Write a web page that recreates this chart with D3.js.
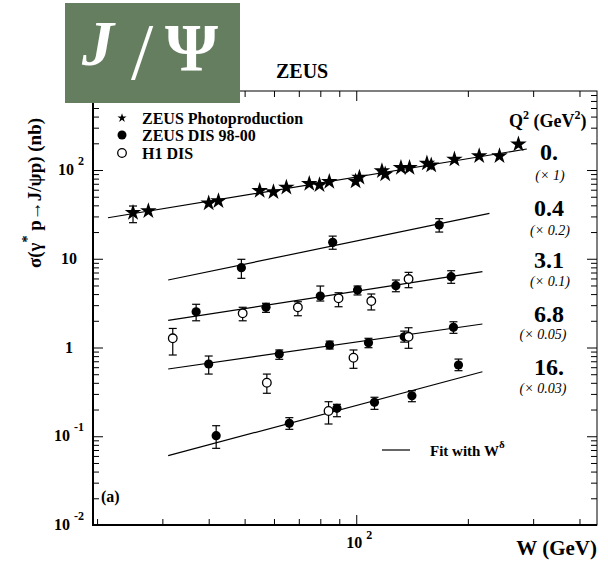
<!DOCTYPE html>
<html><head><meta charset="utf-8">
<script src="https://cdn.jsdelivr.net/npm/d3@7"></script>
<style>body{margin:0;background:#fff}text{font-family:"Liberation Serif","Times New Roman",serif}</style>
</head><body><svg id="chart" width="608" height="563"></svg>
<script>
// ---- data: sigma(gamma* p -> J/psi p) vs W, per Q^2 bin (already scaled) ----
const photoW     = [25.0, 27.5, 40.0, 42.5, 54.9, 59.8, 64.8, 74.7, 79.6, 84.6, 99.6, 102, 117.3, 119.7, 132, 139.2, 155.1, 159.3, 184, 214.6, 243.4, 273.8];
const photoSigma = [33.0, 34.5, 42.2, 44.8, 58.4, 56.5, 63.8, 70.1, 67.8, 73.8, 74.6, 82.7, 97.5, 89.5, 106, 106, 119, 113, 132, 144, 144, 195];
const photoLo    = [25.5, null, null, null, null, null, null, null, null, null, null, null, null, null, null, null, null, null, null, null, null, null];
const photoHi    = [39.3, null, null, null, null, null, null, null, null, null, null, null, null, null, null, null, null, null, null, null, null, null];

// ZEUS DIS 98-00
const zeusQ04W = [49.0, 86.4, 167.4];
const zeusQ04S = [7.93, 15.3, 24.0];
const zeusQ04Lo = [6.02, 12.8, 20.0];
const zeusQ04Hi = [9.86, 18.0, 28.3];

const zeusQ31W = [37.0, 57.1, 80.0, 100.8, 127.9, 180.3];
const zeusQ31S = [2.53, 2.84, 3.80, 4.44, 4.97, 6.28];
const zeusQ31Lo = [2.00, 2.49, 3.34, 3.91, 4.25, 5.29];
const zeusQ31Hi = [3.07, 3.15, 4.93, 4.93, 5.76, 7.33];

const zeusQ68W = [40.0, 62.0, 84.8, 107.9, 134.7, 182.9];
const zeusQ68S = [0.652, 0.845, 1.067, 1.13, 1.32, 1.69];
const zeusQ68Lo = [0.502, 0.736, 0.962, 0.995, 1.15, 1.445];
const zeusQ68Hi = [0.802, 0.938, 1.18, 1.27, 1.53, 1.95];

const zeusQ16W = [41.9, 66.0, 88.7, 112, 141.3, 188.7];
const zeusQ16S = [0.1014, 0.14, 0.2065, 0.241, 0.286, 0.635];
const zeusQ16Lo = [0.0731, 0.1197, 0.166, 0.201, 0.245, 0.548];
const zeusQ16Hi = [0.1315, 0.162, 0.229, 0.275, 0.326, 0.741];

// H1 DIS
const h1Q31W = [32.0, 49.4, 69.6, 89.6, 109.8, 138.4];
const h1Q31S = [1.27, 2.43, 2.84, 3.58, 3.34, 5.91];
const h1Q31Lo = [0.823, 2.00, 2.28, 2.88, 2.65, 4.72];
const h1Q31Hi = [1.64, 2.84, 3.28, 4.14, 4.01, 7.03];

const h1Q68W = [57.4, 98.3, 138.4];
const h1Q68S = [0.401, 0.767, 1.32];
const h1Q68Lo = [0.305, 0.583, 0.98];
const h1Q68Hi = [0.502, 0.938, 1.67];

const h1Q16W = [84.2];
const h1Q16S = [0.1925];
const h1Q16Lo = [0.1374];
const h1Q16Hi = [0.245];

// W^delta fits, one per Q^2 bin: end points of each line
const fitWStart = [21.4, 31.1, 31.1, 31.1, 31.1];
const fitSStart = [29.0, 5.76, 2.02, 0.573, 0.0604];
const fitWEnd   = [288.4, 228.7, 218.9, 218.9, 218.9];
const fitSEnd   = [172.5, 32.5, 7.15, 1.84, 0.533];

const q2Labels    = ["0.", "0.4", "3.1", "6.8", "16."];
const scaleLabels = ["(\u00d7 1)", "(\u00d7 0.2)", "(\u00d7 0.1)", "(\u00d7 0.05)", "(\u00d7 0.03)"];

const yMajor = [0.01, 0.1, 1, 10, 100];
const yMajorExp = ["-2", "-1", null, null, "2"];
const yMajorBase = ["10", "10", "1", "10", "10"];
const yMinor = [];
for (let k = -2; k <= 2; k++) for (let m = 2; m <= 9; m++) { const v = m * Math.pow(10, k); if (v < 777) yMinor.push(v); }
const xMajor = [100];
const xMinor = [20, 30, 40, 50, 60, 70, 80, 90, 200, 300, 400];

// ---- layout ----
const L = 93, R = 597, T = 91, B = 525;
const svg = d3.select("#chart");
const x = d3.scaleLog().domain([19.5, 446]).range([L, R]);
const y = d3.scaleLog().domain([0.01, 777]).range([B, T]);

// frame
svg.append("rect").attr("x", L).attr("y", T).attr("width", R - L).attr("height", B - T)
  .attr("fill", "none").attr("stroke", "#000").attr("stroke-width", 1);
svg.append("line").attr("x1", L).attr("x2", L).attr("y1", T).attr("y2", B + 1).attr("stroke", "#000").attr("stroke-width", 2);
svg.append("line").attr("x1", L - 1).attr("x2", R).attr("y1", B).attr("y2", B).attr("stroke", "#000").attr("stroke-width", 2);

function ticks(axisGen, transform, values, size) {
  const g = svg.append("g").attr("transform", transform)
    .call(axisGen.tickValues(values).tickSize(size).tickSizeOuter(0).tickFormat(""));
  g.select(".domain").remove();
  g.selectAll("line").attr("stroke", "#000").attr("stroke-width", 1);
}
ticks(d3.axisRight(y), `translate(${L},0)`, yMajor, 10);
ticks(d3.axisRight(y), `translate(${L},0)`, yMinor, 6);
ticks(d3.axisLeft(y), `translate(${R},0)`, yMajor, 10);
ticks(d3.axisLeft(y), `translate(${R},0)`, yMinor, 6);
ticks(d3.axisTop(x), `translate(0,${B})`, xMajor, 10);
ticks(d3.axisTop(x), `translate(0,${B})`, xMinor, 6);
ticks(d3.axisBottom(x), `translate(0,${T})`, xMajor, 10);
ticks(d3.axisBottom(x), `translate(0,${T})`, xMinor, 6);

// y tick labels
yMajor.forEach((v, i) => {
  const t = svg.append("text").attr("text-anchor", "end").attr("font-weight", "bold").attr("font-size", 16)
    .attr("y", y(v) + 5);
  t.append("tspan").text(yMajorBase[i]);
  if (yMajorExp[i]) {
    t.attr("x", 84);
    t.append("tspan").attr("dx", 4).attr("dy", -10).attr("font-size", 12).text(yMajorExp[i]);
  } else {
    t.attr("x", yMajorBase[i] === "1" ? 73 : 77);
  }
});
// x tick label
{
  const t = svg.append("text").attr("x", x(100) - 10).attr("y", 548).attr("font-weight", "bold").attr("font-size", 16);
  t.append("tspan").text("10");
  t.append("tspan").attr("dx", 4).attr("dy", -9).attr("font-size", 12).text("2");
}
// axis titles
svg.append("text").attr("x", 597).attr("y", 555).attr("text-anchor", "end")
  .attr("font-weight", "bold").attr("font-size", 21).text("W (GeV)");
{
  const t = svg.append("text").attr("transform", "translate(41,193) rotate(-90)")
    .attr("text-anchor", "middle").attr("font-weight", "bold").attr("font-size", 19);
  t.append("tspan").text("\u03c3(\u03b3");
  t.append("tspan").attr("dy", -9).attr("font-size", 14).text("*");
  t.append("tspan").attr("dy", 9).text(" p\u2192J/\u03c8p) (nb)");
}

// fit lines
const line = d3.line().x(d => x(d[0])).y(d => y(d[1]));
fitWStart.forEach((w, i) => {
  svg.append("path").attr("d", line([[w, fitSStart[i]], [fitWEnd[i], fitSEnd[i]]]))
    .attr("fill", "none").attr("stroke", "#000").attr("stroke-width", 1.2);
});

// error bars
function errorBars(W, lo, hi) {
  W.forEach((w, i) => {
    if (lo[i] == null) return;
    const cx = x(w);
    svg.append("line").attr("x1", cx).attr("x2", cx).attr("y1", y(lo[i])).attr("y2", y(hi[i]))
      .attr("stroke", "#000").attr("stroke-width", 1.2);
    [lo[i], hi[i]].forEach(v => svg.append("line").attr("x1", cx - 4).attr("x2", cx + 4)
      .attr("y1", y(v)).attr("y2", y(v)).attr("stroke", "#000").attr("stroke-width", 1.2));
  });
}
const zeusSets = [[zeusQ04W, zeusQ04S, zeusQ04Lo, zeusQ04Hi], [zeusQ31W, zeusQ31S, zeusQ31Lo, zeusQ31Hi],
  [zeusQ68W, zeusQ68S, zeusQ68Lo, zeusQ68Hi], [zeusQ16W, zeusQ16S, zeusQ16Lo, zeusQ16Hi]];
const h1Sets = [[h1Q31W, h1Q31S, h1Q31Lo, h1Q31Hi], [h1Q68W, h1Q68S, h1Q68Lo, h1Q68Hi], [h1Q16W, h1Q16S, h1Q16Lo, h1Q16Hi]];
errorBars(photoW, photoLo, photoHi);
zeusSets.forEach(s => errorBars(s[0], s[2], s[3]));
h1Sets.forEach(s => errorBars(s[0], s[2], s[3]));

// markers
const star = d3.symbol(d3.symbolStar, 85);
photoW.forEach((w, i) => svg.append("path").attr("d", star())
  .attr("transform", `translate(${x(w)},${y(photoSigma[i])})`).attr("fill", "#000"));
zeusSets.forEach(s => s[0].forEach((w, i) => svg.append("circle")
  .attr("cx", x(w)).attr("cy", y(s[1][i])).attr("r", 4.6).attr("fill", "#000")));
h1Sets.forEach(s => s[0].forEach((w, i) => svg.append("circle")
  .attr("cx", x(w)).attr("cy", y(s[1][i])).attr("r", 4.3).attr("fill", "#fff").attr("stroke", "#000").attr("stroke-width", 1.3)));

// legend
svg.append("path").attr("d", d3.symbol(d3.symbolStar, 26)()).attr("transform", "translate(122,118)").attr("fill", "#000");
svg.append("circle").attr("cx", 122).attr("cy", 135).attr("r", 4.5).attr("fill", "#000");
svg.append("circle").attr("cx", 122).attr("cy", 153).attr("r", 4.3).attr("fill", "#fff").attr("stroke", "#000").attr("stroke-width", 1.3);
[["ZEUS Photoproduction", 124], ["ZEUS DIS 98-00", 141], ["H1 DIS", 159]].forEach(d =>
  svg.append("text").attr("x", 142).attr("y", d[1]).attr("font-weight", "bold").attr("font-size", 16).text(d[0]));

svg.append("line").attr("x1", 382).attr("x2", 410).attr("y1", 450).attr("y2", 450).attr("stroke", "#000").attr("stroke-width", 1.2);
{
  const t = svg.append("text").attr("x", 430).attr("y", 456).attr("font-weight", "bold").attr("font-size", 15);
  t.append("tspan").text("Fit with W");
  t.append("tspan").attr("dy", -8).attr("font-size", 11).text("\u03b4");
}

// Q^2 column
{
  const t = svg.append("text").attr("x", 509).attr("y", 127).attr("font-weight", "bold").attr("font-size", 18);
  t.append("tspan").text("Q");
  t.append("tspan").attr("dy", -8).attr("font-size", 12).text("2");
  t.append("tspan").attr("dy", 8).text(" (GeV");
  t.append("tspan").attr("dy", -8).attr("font-size", 12).text("2");
  t.append("tspan").attr("dy", 8).text(")");
}
const q2Base = [160, 216, 268, 322, 375];
const scBase = [180, 235, 286, 339, 393];
q2Labels.forEach((s, i) => {
  svg.append("text").attr("x", 549).attr("y", q2Base[i]).attr("text-anchor", "middle")
    .attr("font-weight", "bold").attr("font-size", 24).text(s);
  svg.append("text").attr("x", i >= 3 ? 543 : 550).attr("y", scBase[i]).attr("text-anchor", "middle")
    .attr("font-style", "italic").attr("font-size", 14).text(scaleLabels[i]);
});

svg.append("text").attr("x", 101).attr("y", 502).attr("font-weight", "bold").attr("font-size", 16).text("(a)");

// title
svg.append("text").attr("x", 276).attr("y", 78).attr("font-weight", "bold").attr("font-size", 20).text("ZEUS");

// J/Psi badge
svg.append("rect").attr("x", 65).attr("y", 3).attr("width", 175).attr("height", 100).attr("fill", "#657e60");
svg.append("text").attr("x", 82).attr("y", 65).attr("fill", "#fff").attr("font-style", "italic")
  .attr("font-weight", "bold").attr("font-size", 64).text("J");
svg.append("text").attr("x", 131).attr("y", 79).attr("fill", "#fff")
  .attr("font-size", 80).text("/");
svg.append("text").attr("x", 165).attr("y", 70).attr("fill", "#fff").attr("font-weight", "bold")
  .attr("font-size", 68).text("\u03a8");
</script></body></html>
